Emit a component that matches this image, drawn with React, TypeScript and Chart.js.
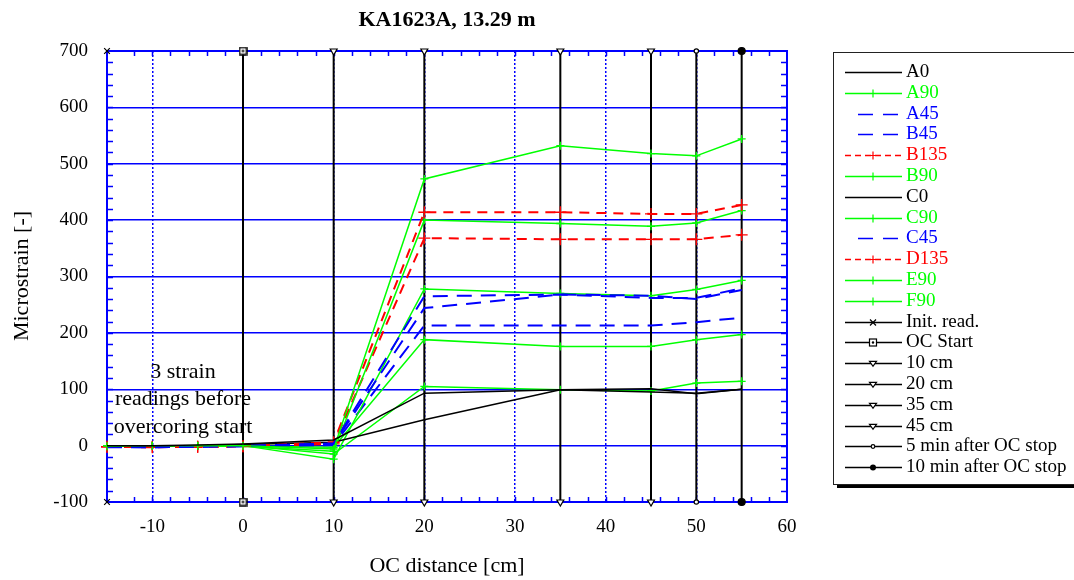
import React, { useEffect, useRef } from 'react';
import { Chart, registerables } from 'chart.js';

Chart.register(...registerables);

// ---------- data ----------
const titleText = 'KA1623A, 13.29 m';
const xAxisTitle = 'OC distance [cm]';
const yAxisTitle = 'Microstrain [-]';
const noteLines = ['3 strain', 'readings before', 'overcoring start'];

const xPositions = [-15, -10, -5, 0, 10, 20, 35, 45, 50, 55];

const A0 = [0, 0, 1, 3, 10, 93, 99, 101, 92, 100];
const A90 = [-1, 0, 0, 0, -6, 473, 532, 518, 514, 544];
const A45 = [-2, -3, -2, -1, 4, 265, 268, 262, 262, 279];
const B45 = [-2, -2, -1, 0, 3, 244, 268, 266, 260, 276];
const B135 = [-2, -3, -2, -1, 6, 414, 414, 411, 411, 427];
const B90 = [-1, 0, 0, -1, -10, 400, 394, 389, 395, 417];
const C0 = [0, -1, 0, 2, 6, 46, 99, 95, 93, 100];
const C90 = [-1, 0, 0, 0, -24, 278, 270, 266, 277, 293];
const C45 = [-3, -3, -2, -1, 1, 213, 213, 213, 219, 227];
const D135 = [-2, -2, -2, -1, 3, 368, 366, 366, 366, 374];
const E90 = [-1, -1, 0, -1, -3, 188, 176, 176, 188, 197];
const F90 = [-1, 0, 0, 0, -15, 105, 99, 97, 111, 114];

const seriesNames = ['A0', 'A90', 'A45', 'B45', 'B135', 'B90', 'C0', 'C90', 'C45', 'D135', 'E90', 'F90'];
const seriesValues = [A0, A90, A45, B45, B135, B90, C0, C90, C45, D135, E90, F90];
const seriesKinds = ['black', 'green', 'blue', 'blue', 'red', 'green', 'black', 'green', 'blue', 'red', 'green', 'green'];

const stageNames = ['Init. read.', 'OC Start', '10 cm', '20 cm', '35 cm', '45 cm', '5 min after OC stop', '10 min after OC stop'];
const stagePositions = [-15, 0, 10, 20, 35, 45, 50, 55];
const stageMarkers = ['crossRot', 'squareDot', 'triDown', 'triDown', 'triDown', 'triDown', 'smallCircle', 'bigDot'];
const stageRange = [-100, 700];

const xTickValues = [-10, 0, 10, 20, 30, 40, 50, 60];
const yTickValues = [-100, 0, 100, 200, 300, 400, 500, 600, 700];

// ---------- styles ----------
const SERIF = '"Liberation Serif", "Times New Roman", serif';
const GREEN = '#00ff00';
const BLUE = '#0000ff';
const RED = '#ff0000';
const BLACK = '#000000';

const kindStyle: Record<string, any> = {
  black: { color: BLACK, width: 1.5, dash: [], marker: null, r: 0 },
  green: { color: GREEN, width: 1.5, dash: [], marker: 'cross', r: 4 },
  blue: { color: BLUE, width: 2, dash: [15, 9], marker: null, r: 0 },
  red: { color: RED, width: 2, dash: [10, 7], marker: 'cross', r: 6 },
};

function makeSquareDot(): HTMLCanvasElement {
  const c = document.createElement('canvas');
  c.width = 9;
  c.height = 9;
  const g = c.getContext('2d')!;
  g.fillStyle = '#fff';
  g.fillRect(1, 1, 7, 7);
  g.strokeStyle = '#000';
  g.lineWidth = 1.5;
  g.strokeRect(1, 1, 7, 7);
  g.fillStyle = '#000';
  g.beginPath();
  g.arc(4.5, 4.5, 1.3, 0, Math.PI * 2);
  g.fill();
  return c;
}

function stagePointOpts(m: string, squareDot: HTMLCanvasElement) {
  switch (m) {
    case 'crossRot':
      return { pointStyle: 'crossRot', pointRadius: 4, pointBorderWidth: 1.2, pointBackgroundColor: '#fff', pointRotation: 0 };
    case 'squareDot':
      return { pointStyle: squareDot, pointRadius: 4, pointBorderWidth: 1, pointBackgroundColor: '#fff', pointRotation: 0 };
    case 'triDown':
      return { pointStyle: 'triangle', pointRadius: 4, pointBorderWidth: 1.2, pointBackgroundColor: '#fff', pointRotation: 180 };
    case 'smallCircle':
      return { pointStyle: 'circle', pointRadius: 2.2, pointBorderWidth: 1.2, pointBackgroundColor: '#fff', pointRotation: 0 };
    default:
      return { pointStyle: 'circle', pointRadius: 3.5, pointBorderWidth: 1.2, pointBackgroundColor: '#000', pointRotation: 0 };
  }
}

function drawMarker(ctx: CanvasRenderingContext2D, m: string, x: number, y: number, r: number, color: string) {
  ctx.save();
  ctx.setLineDash([]);
  ctx.strokeStyle = color;
  ctx.lineWidth = 1.2;
  ctx.beginPath();
  if (m === 'cross') {
    ctx.moveTo(x - r, y);
    ctx.lineTo(x + r, y);
    ctx.moveTo(x, y - r);
    ctx.lineTo(x, y + r);
    ctx.stroke();
  } else if (m === 'crossRot') {
    ctx.moveTo(x - r, y - r);
    ctx.lineTo(x + r, y + r);
    ctx.moveTo(x - r, y + r);
    ctx.lineTo(x + r, y - r);
    ctx.stroke();
  } else if (m === 'squareDot') {
    ctx.fillStyle = '#fff';
    ctx.fillRect(x - r, y - r, 2 * r, 2 * r);
    ctx.strokeRect(x - r, y - r, 2 * r, 2 * r);
    ctx.fillStyle = color;
    ctx.beginPath();
    ctx.arc(x, y, 1.2, 0, Math.PI * 2);
    ctx.fill();
  } else if (m === 'triDown') {
    ctx.fillStyle = '#fff';
    ctx.moveTo(x - r, y - r * 0.6);
    ctx.lineTo(x + r, y - r * 0.6);
    ctx.lineTo(x, y + r * 0.8);
    ctx.closePath();
    ctx.fill();
    ctx.stroke();
  } else if (m === 'smallCircle') {
    ctx.fillStyle = '#fff';
    ctx.arc(x, y, r, 0, Math.PI * 2);
    ctx.fill();
    ctx.stroke();
  } else if (m === 'bigDot') {
    ctx.fillStyle = color;
    ctx.arc(x, y, r, 0, Math.PI * 2);
    ctx.fill();
  }
  ctx.restore();
}

const decorPlugin = {
  id: 'decor',
  beforeDatasetsDraw(chart: any) {
    const { ctx, chartArea: a, scales } = chart;
    const xs = scales.x;
    const ys = scales.y;
    ctx.save();
    ctx.strokeStyle = BLUE;
    ctx.lineWidth = 1.5;
    ctx.setLineDash([]);
    // minor ticks (inward)
    ctx.beginPath();
    for (let v = -12; v <= 58; v += 2) {
      const px = Math.round(xs.getPixelForValue(v)) + 0.5;
      ctx.moveTo(px, a.top);
      ctx.lineTo(px, a.top + 5);
      ctx.moveTo(px, a.bottom);
      ctx.lineTo(px, a.bottom - 5);
    }
    for (let v = -80; v <= 680; v += 20) {
      const py = Math.round(ys.getPixelForValue(v)) + 0.5;
      ctx.moveTo(a.left, py);
      ctx.lineTo(a.left + 6, py);
      ctx.moveTo(a.right, py);
      ctx.lineTo(a.right - 6, py);
    }
    ctx.stroke();
    // frame
    ctx.lineWidth = 2;
    ctx.strokeRect(a.left, a.top, a.right - a.left, a.bottom - a.top);
    ctx.restore();
  },
  afterDraw(chart: any) {
    const { ctx, chartArea: a } = chart;
    ctx.save();
    ctx.setLineDash([]);
    // title
    ctx.fillStyle = BLACK;
    ctx.font = `bold 22px ${SERIF}`;
    ctx.textAlign = 'center';
    ctx.textBaseline = 'middle';
    ctx.fillText(titleText, (a.left + a.right) / 2, 20);
    // axis titles
    ctx.font = `22px ${SERIF}`;
    ctx.fillText(xAxisTitle, (a.left + a.right) / 2, 566);
    ctx.save();
    ctx.translate(22, 276);
    ctx.rotate(-Math.PI / 2);
    ctx.fillText(yAxisTitle, 0, 0);
    ctx.restore();
    // note
    ctx.font = `22px ${SERIF}`;
    noteLines.forEach((t, i) => {
      ctx.fillText(t, 183, 372 + i * 27.5);
    });

    // legend box
    const bx = 833, by = 52, bw = 260, bh = 432;
    ctx.fillStyle = BLACK;
    ctx.fillRect(bx + 4, by + 4, bw, bh);
    ctx.fillStyle = '#fff';
    ctx.fillRect(bx, by, bw, bh);
    ctx.strokeStyle = '#222';
    ctx.lineWidth = 1;
    ctx.strokeRect(bx + 0.5, by + 0.5, bw, bh);

    ctx.font = `19px ${SERIF}`;
    ctx.textAlign = 'left';
    ctx.textBaseline = 'middle';
    const rowH = 20.8;
    const x0 = 845, x1 = 902, xm = 873, tx = 906;
    let row = 0;
    seriesNames.forEach((name, i) => {
      const st = kindStyle[seriesKinds[i]];
      const y = Math.round(72 + row * rowH) + 0.5;
      ctx.strokeStyle = st.color;
      ctx.lineWidth = seriesKinds[i] === 'black' || seriesKinds[i] === 'green' ? 1.3 : 1.6;
      ctx.beginPath();
      if (seriesKinds[i] === 'blue') {
        ctx.setLineDash([15, 10]);
        ctx.moveTo(858, y);
        ctx.lineTo(898, y);
      } else if (seriesKinds[i] === 'red') {
        ctx.setLineDash([6, 4]);
        ctx.moveTo(x0, y);
        ctx.lineTo(x1, y);
      } else {
        ctx.setLineDash([]);
        ctx.moveTo(x0, y);
        ctx.lineTo(x1, y);
      }
      ctx.stroke();
      ctx.setLineDash([]);
      if (st.marker) drawMarker(ctx, st.marker, xm, y, 4, st.color);
      ctx.fillStyle = st.color;
      ctx.fillText(name, tx, y);
      row++;
    });
    stageNames.forEach((name, i) => {
      const y = Math.round(72 + row * rowH) + 0.5;
      ctx.strokeStyle = BLACK;
      ctx.lineWidth = 1.3;
      ctx.setLineDash([]);
      ctx.beginPath();
      ctx.moveTo(x0, y);
      ctx.lineTo(x1, y);
      ctx.stroke();
      const m = stageMarkers[i];
      const r = m === 'crossRot' ? 3 : m === 'squareDot' ? 3.5 : m === 'triDown' ? 3.5 : m === 'smallCircle' ? 1.8 : 3;
      drawMarker(ctx, m, xm, y, r, BLACK);
      ctx.fillStyle = BLACK;
      ctx.fillText(name, tx, y);
      row++;
    });
    ctx.restore();
  },
};

export default function App() {
  const ref = useRef<HTMLCanvasElement>(null);

  useEffect(() => {
    const canvas = ref.current;
    if (!canvas) return;
    const squareDot = makeSquareDot();

    const strainSets = seriesNames.map((name, i) => {
      const st = kindStyle[seriesKinds[i]];
      return {
        label: name,
        data: xPositions.map((x, j) => ({ x, y: seriesValues[i][j] })),
        showLine: true,
        borderColor: st.color,
        backgroundColor: st.color,
        borderWidth: st.width,
        borderDash: st.dash,
        pointStyle: st.marker || 'circle',
        pointRadius: st.marker ? st.r : 0,
        pointBorderWidth: 1.3,
        pointBorderColor: st.color,
        tension: 0,
        clip: false,
      };
    });

    const stageSets = stageNames.map((name, i) => {
      const p = stagePointOpts(stageMarkers[i], squareDot);
      return {
        label: name,
        data: stageRange.map((y) => ({ x: stagePositions[i], y })),
        showLine: i !== 0,
        borderColor: BLACK,
        borderWidth: 2,
        pointBorderColor: BLACK,
        ...p,
        clip: false,
      };
    });

    const chart = new Chart(canvas, {
      type: 'scatter',
      data: { datasets: [...strainSets, ...stageSets] as any },
      options: {
        responsive: false,
        devicePixelRatio: 1,
        animation: false,
        events: [],
        layout: { padding: { left: 0, top: 51, right: 287, bottom: 0 } },
        plugins: {
          legend: { display: false },
          tooltip: { enabled: false },
          title: { display: false },
        },
        scales: {
          x: {
            type: 'linear',
            min: -15,
            max: 60,
            afterBuildTicks: (s: any) => {
              s.ticks = xTickValues.map((v) => ({ value: v }));
            },
            afterFit: (s: any) => {
              s.height = 78;
            },
            grid: { color: BLUE, lineWidth: 1.5, drawTicks: false },
            border: { display: false, dash: [2, 2] },
            ticks: {
              color: BLACK,
              font: { family: SERIF, size: 19 },
              padding: 14,
              maxRotation: 0,
              autoSkip: false,
            },
          },
          y: {
            type: 'linear',
            min: -100,
            max: 700,
            afterBuildTicks: (s: any) => {
              s.ticks = yTickValues.map((v) => ({ value: v }));
            },
            afterFit: (s: any) => {
              s.width = 107;
            },
            grid: { color: BLUE, lineWidth: 1.5, drawTicks: false },
            border: { display: false },
            ticks: {
              color: BLACK,
              font: { family: SERIF, size: 19 },
              padding: 19,
              autoSkip: false,
            },
          },
        },
      } as any,
      plugins: [decorPlugin],
    });
    return () => chart.destroy();
  }, []);

  return (
    <div style={{ position: 'fixed', left: 0, top: 0, width: 1074, height: 580, background: '#fff' }}>
      <canvas ref={ref} width={1074} height={580} style={{ display: 'block', width: 1074, height: 580 }} />
    </div>
  );
}
